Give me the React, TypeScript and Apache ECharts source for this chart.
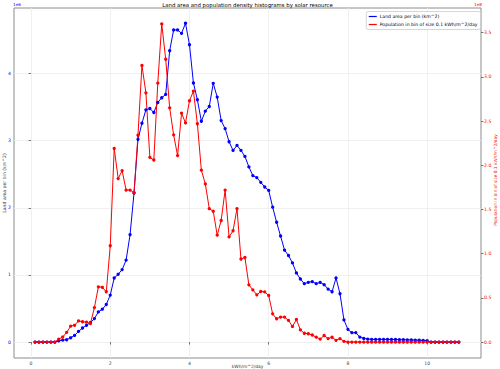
import React, { useEffect, useRef } from "react";
import * as echarts from "echarts";

const binCenters = [
  0.1, 0.2, 0.3, 0.4, 0.5, 0.6, 0.7, 0.8, 0.9, 1.0,
  1.1, 1.2, 1.3, 1.4, 1.5, 1.6, 1.7, 1.8, 1.9, 2.0,
  2.1, 2.2, 2.3, 2.4, 2.5, 2.6, 2.7, 2.8, 2.9, 3.0,
  3.1, 3.2, 3.3, 3.4, 3.5, 3.6, 3.7, 3.8, 3.9, 4.0,
  4.1, 4.2, 4.3, 4.4, 4.5, 4.6, 4.7, 4.8, 4.9, 5.0,
  5.1, 5.2, 5.3, 5.4, 5.5, 5.6, 5.7, 5.8, 5.9, 6.0,
  6.1, 6.2, 6.3, 6.4, 6.5, 6.6, 6.7, 6.8, 6.9, 7.0,
  7.1, 7.2, 7.3, 7.4, 7.5, 7.6, 7.7, 7.8, 7.9, 8.0,
  8.1, 8.2, 8.3, 8.4, 8.5, 8.6, 8.7, 8.8, 8.9, 9.0,
  9.1, 9.2, 9.3, 9.4, 9.5, 9.6, 9.7, 9.8, 9.9, 10.0,
  10.1, 10.2, 10.3, 10.4, 10.5, 10.6, 10.7, 10.8,
];

// Land area per bin, in units of 1e6 km^2
const landArea = [
  0, 0, 0, 0, 0, 0, 0.02, 0.03, 0.035, 0.064,
  0.10, 0.16, 0.21, 0.25, 0.29, 0.35, 0.45, 0.49, 0.56, 0.70,
  0.955, 1.01, 1.08, 1.22, 1.60, 2.22, 3.02, 3.26, 3.46, 3.48,
  3.42, 3.57, 3.64, 3.69, 4.34, 4.65, 4.65, 4.60, 4.75, 4.43,
  3.86, 3.61, 3.29, 3.44, 3.51, 3.855, 3.65, 3.30, 3.18, 2.985,
  2.855, 2.93, 2.855, 2.766, 2.61, 2.48, 2.45, 2.38, 2.31, 2.26,
  2.01, 1.785, 1.58, 1.37, 1.29, 1.18, 1.03, 0.94, 0.87, 0.89,
  0.90, 0.87, 0.89, 0.855, 0.79, 0.75, 0.955, 0.72, 0.33, 0.19,
  0.14, 0.14, 0.075, 0.054, 0.045, 0.04, 0.04, 0.04, 0.04, 0.04,
  0.038, 0.038, 0.036, 0.035, 0.034, 0.032, 0.03, 0.028, 0.025, 0.02,
  0, 0, 0, 0, 0, 0, 0, 0,
];

// Population per bin, in units of 1e8
const population = [
  0, 0, 0, 0, 0, 0, 0.034, 0.057, 0.11, 0.18,
  0.19, 0.24, 0.23, 0.225, 0.21, 0.39, 0.625, 0.62, 0.57, 1.09,
  2.19, 1.85, 1.94, 1.72, 1.72, 1.69, 2.34, 3.13, 2.82, 2.09,
  2.06, 2.93, 3.60, 3.20, 2.65, 2.345, 2.11, 2.59, 2.48, 2.73,
  2.84, 2.47, 1.945, 1.79, 1.51, 1.48, 1.21, 1.376, 1.72, 1.19,
  1.26, 1.51, 0.94, 0.957, 0.648, 0.59, 0.535, 0.572, 0.568, 0.527,
  0.32, 0.264, 0.283, 0.283, 0.245, 0.177, 0.255, 0.139, 0.10, 0.094,
  0.08, 0.056, 0.034, 0.075, 0.04, 0.055, 0.02, 0.04, 0.008, 0,
  0, 0, 0, 0, 0, 0, 0, 0, 0, 0,
  0, 0, 0, 0, 0, 0, 0, 0, 0, 0,
  0, 0, 0, 0, 0, 0, 0, 0,
];

const xTicks = [0, 2, 4, 6, 8, 10];
const leftTicks = [0, 1, 2, 3, 4];
const rightTicks = [0, 0.5, 1.0, 1.5, 2.0, 2.5, 3.0, 3.5];

const TITLE = "Land area and population density histograms by solar resource";
const LAND_NAME = "Land area per bin (km^2)";
const POP_NAME = "Population in bin of size 0.1 kWh/m^2/day";
const X_NAME = "kWh/m^2/day";

const FONT = "DejaVu Sans";
const BLUE = "#0000ff";
const RED = "#ff0000";

export default function App() {
  const ref = useRef<HTMLDivElement>(null);
  useEffect(() => {
    if (!ref.current) return;
    const chart = echarts.init(ref.current, undefined, { renderer: "svg" });
    const landData = binCenters.map((x, i) => [x, landArea[i]]);
    const popData = binCenters.map((x, i) => [x, population[i]]);
    const option: any = {
      animation: false,
      backgroundColor: "#ffffff",
      textStyle: { fontFamily: FONT },
      grid: {
        left: 14,
        right: 19,
        top: 8,
        bottom: 11,
        show: true,
        borderColor: "#8c8c8c",
        borderWidth: 1,
        backgroundColor: "transparent",
      },
      legend: {
        orient: "vertical",
        right: 19.5,
        top: 11.5,
        icon: "rect",
        itemWidth: 8,
        itemHeight: 1.2,
        itemGap: 3,
        padding: [2.5, 3, 2.5, 2.5],
        backgroundColor: "rgba(255,255,255,0.85)",
        borderColor: "#cccccc",
        borderWidth: 0.8,
        borderRadius: 2,
        textStyle: { fontSize: 4.6, fontFamily: FONT, color: "#000", padding: [0, 0, 0, -2] },
        data: [LAND_NAME, POP_NAME],
      },
      xAxis: {
        type: "value",
        min: -0.43,
        max: 11.36,
        axisLine: { show: false },
        axisTick: {
          show: true,
          customValues: xTicks,
          length: 2.5,
          lineStyle: { color: "#555", width: 0.8 },
        },
        axisLabel: {
          customValues: xTicks,
          fontSize: 4.6,
          fontFamily: FONT,
          color: "#444",
          margin: 3,
        },
        splitLine: { show: true, lineStyle: { color: "#ececec", width: 0.8 } },
      },
      yAxis: [
        {
          type: "value",
          position: "left",
          min: -0.237,
          max: 4.977,
          axisLine: { show: false },
          axisTick: {
            show: true,
            customValues: leftTicks,
            length: 2.5,
            lineStyle: { color: "#555", width: 0.8 },
          },
          axisLabel: {
            customValues: leftTicks,
            fontSize: 4.6,
            fontFamily: FONT,
            color: BLUE,
            margin: 3,
          },
          splitLine: { show: true, lineStyle: { color: "#ececec", width: 0.8 } },
        },
        {
          type: "value",
          position: "right",
          min: -0.18,
          max: 3.78,
          axisLine: { show: false },
          axisTick: {
            show: true,
            customValues: rightTicks,
            length: 2.5,
            lineStyle: { color: "#555", width: 0.8 },
          },
          axisLabel: {
            customValues: rightTicks,
            fontSize: 4.6,
            fontFamily: FONT,
            color: RED,
            margin: 3,
            formatter: (v: number) => v.toFixed(1),
          },
          splitLine: { show: false },
        },
      ],
      graphic: [
        {
          type: "text",
          x: 247.5,
          y: 4.5,
          style: {
            text: TITLE,
            fontSize: 5.4,
            fontFamily: FONT,
            fill: "#000",
            textAlign: "center",
            textVerticalAlign: "middle",
          },
        },
        {
          type: "text",
          x: 13,
          y: 4.5,
          style: {
            text: "1e6",
            fontSize: 4.2,
            fontFamily: FONT,
            fill: BLUE,
            textAlign: "left",
            textVerticalAlign: "middle",
          },
        },
        {
          type: "text",
          x: 482,
          y: 4.5,
          style: {
            text: "1e8",
            fontSize: 4.2,
            fontFamily: FONT,
            fill: RED,
            textAlign: "right",
            textVerticalAlign: "middle",
          },
        },
        {
          type: "text",
          x: 4,
          y: 183,
          rotation: Math.PI / 2,
          style: {
            text: LAND_NAME,
            fontSize: 4.6,
            fontFamily: FONT,
            fill: "#333",
            textAlign: "center",
            textVerticalAlign: "middle",
          },
        },
        {
          type: "text",
          x: 495.5,
          y: 180,
          rotation: Math.PI / 2,
          style: {
            text: POP_NAME,
            fontSize: 4.3,
            fontFamily: FONT,
            fill: RED,
            textAlign: "center",
            textVerticalAlign: "middle",
          },
        },
        {
          type: "text",
          x: 247.5,
          y: 366,
          style: {
            text: X_NAME,
            fontSize: 4.4,
            fontFamily: FONT,
            fill: "#333",
            textAlign: "center",
            textVerticalAlign: "middle",
          },
        },
      ],
      series: [
        {
          name: LAND_NAME,
          type: "line",
          xAxisIndex: 0,
          yAxisIndex: 0,
          data: landData,
          symbol: "circle",
          symbolSize: 3.3,
          showSymbol: true,
          itemStyle: { color: BLUE },
          lineStyle: { color: BLUE, width: 1 },
          emphasis: { disabled: true },
        },
        {
          name: POP_NAME,
          type: "line",
          xAxisIndex: 0,
          yAxisIndex: 1,
          data: popData,
          symbol: "circle",
          symbolSize: 3.3,
          showSymbol: true,
          itemStyle: { color: RED },
          lineStyle: { color: RED, width: 1 },
          emphasis: { disabled: true },
        },
      ],
    };
    chart.setOption(option);
    return () => chart.dispose();
  }, []);
  return <div ref={ref} style={{ width: 500, height: 369, position: "fixed", left: 0, top: 0 }} />;
}
